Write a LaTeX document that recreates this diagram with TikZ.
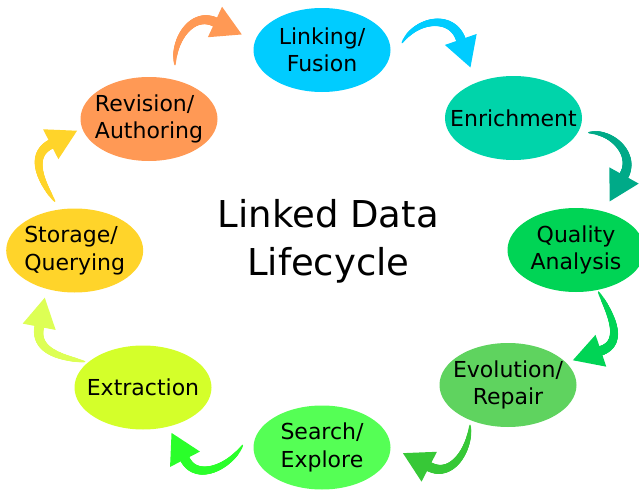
\documentclass[tikz,border=0pt]{standalone}
\usepackage{fontspec}
\setmainfont{DejaVu Sans}
\usetikzlibrary{shapes.geometric,decorations.markings,calc}
\definecolor{c0}{HTML}{00CCFF}
\definecolor{c1}{HTML}{00D4AA}
\definecolor{c2}{HTML}{00D455}
\definecolor{c3}{HTML}{5FD35F}
\definecolor{c4}{HTML}{55FF55}
\definecolor{c5}{HTML}{D4FF2A}
\definecolor{c6}{HTML}{FFD42A}
\definecolor{c7}{HTML}{FF9955}
\definecolor{a1}{HTML}{00AA88}
\definecolor{a3}{HTML}{37C837}
\definecolor{a4}{HTML}{2AFF2A}
\definecolor{a5}{HTML}{DDFF55}
\tikzset{x=0.5pt, y=0.5pt}
\tikzset{phase/.style={ellipse,fill=#1,minimum width=68.5pt,minimum height=42pt,inner xsep=-15pt,inner ysep=-12pt,align=center,font=\fontsize{11}{13.65}\selectfont}}
\tikzset{bent/.style={decoration={markings,
    mark=between positions 0 and 1 step 0.3pt with {\pgfmathsetmacro\rr{0.15+2.3*sqrt(\pgfkeysvalueof{/pgf/decoration/mark info/distance from start}/\pgfdecoratedpathlength)}\fill[#1] (0,0) circle (\rr pt);},
    mark=at position 1 with {\fill[#1] (0,8.4pt) -- (14.8pt,0) -- (0,-8.4pt) -- cycle;}},
    postaction=decorate}}

\begin{document}
\begin{tikzpicture}
        \useasboundingbox (0,0) rectangle (639,489);
        \node[phase=c0] (0) at (322,439) {Linking/\\Fusion};
        \node[phase=c1] (1) at (513.5,371) {Enrichment};
        \node[phase=c2] (2) at (576,239) {Quality\\Analysis};
        \node[phase=c3] (3) at (508,104) {Evolution/\\Repair};
        \node[phase=c4] (4) at (322,41.5) {Search/\\Explore};
        \node[phase=c5] (5) at (143,101.5) {Extraction};
        \node[phase=c6, align=left] (6) at (74.7,238.5) {Storage/\\Querying};
        \node[phase=c7, align=left] (7) at (149,370) {Revision/\\Authoring};
        \node[font=\fontsize{18.5}{21.3}\selectfont, align=center] (title) at (328.3,247.7) {Linked Data\\[3pt]Lifecycle};
        % arrows round the cycle
        \coordinate (s7) at (175,424);   \coordinate (e7) at (215,467);
        \coordinate (s0) at (402,446);   \coordinate (e0) at (460.8,449.5);
        \coordinate (s1) at (588.3,356.3); \coordinate (e1) at (624,313.5);
        \coordinate (s2) at (598.3,197.3); \coordinate (e2) at (600.8,138.2);
        \coordinate (s3) at (470,64);    \coordinate (e3) at (429.2,22.3);
        \coordinate (s4) at (242.7,44);  \coordinate (e4) at (185,29.8);
        \coordinate (s5) at (85,127.3);  \coordinate (e5) at (39.2,162.3);
        \coordinate (s6) at (55,287.3);  \coordinate (e6) at (50.8,344.8);
        \path[bent=c7] (s7) to[out=95,in=155,looseness=1.1] (e7);
        \path[bent=c0] (s0) to[out=60,in=109,looseness=1.2] (e0);
        \path[bent=a1] (s1) to[out=5,in=61,looseness=1.1] (e1);
        \path[bent=c2] (s2) to[out=-60,in=18.5,looseness=1.1] (e2);
        \path[bent=a3] (s3) to[out=-90,in=-27.4,looseness=1.1] (e3);
        \path[bent=a4] (s4) to[out=-120,in=-63,looseness=1.1] (e4);
        \path[bent=a5] (s5) to[out=170,in=-101,looseness=1.1] (e5);
        \path[bent=c6] (s6) to[out=125,in=-153,looseness=1.1] (e6);
\end{tikzpicture}
\end{document}
